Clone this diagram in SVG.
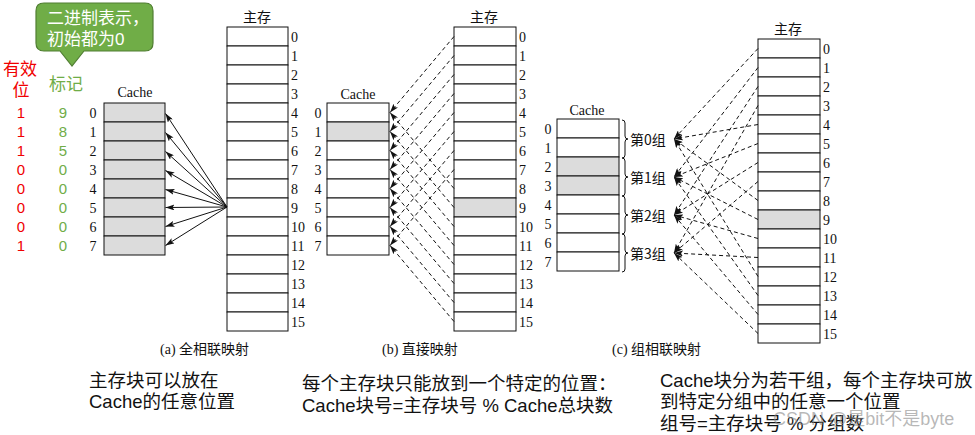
<svg xmlns="http://www.w3.org/2000/svg" width="975" height="435" viewBox="0 0 975 435">
<defs>
<style>
.blk{fill:#fff;stroke:#111;stroke-width:1}
.gry{fill:#dcdcdc;stroke:#111;stroke-width:1}
.num{font-family:'Liberation Serif',serif;font-size:14px;fill:#111}
.ttl{font-family:'Liberation Serif','Noto Sans CJK SC',serif;font-size:14px;fill:#111;text-anchor:middle}
.cap{font-family:'Liberation Serif','Noto Sans CJK SC',serif;font-size:14px;fill:#111}
.grp{font-family:'Noto Sans CJK SC',sans-serif;font-size:14px;fill:#111}
.note{font-family:'Liberation Sans','Noto Sans CJK SC',sans-serif;font-size:18.5px;fill:#111}
.callt{font-family:'Liberation Sans','Noto Sans CJK SC',sans-serif;font-size:17px;fill:#fff}
.redh{font-family:'Liberation Sans','Noto Sans CJK SC',sans-serif;font-size:17px;fill:#f00000;text-anchor:middle}
.grnh{font-family:'Liberation Sans','Noto Sans CJK SC',sans-serif;font-size:17px;fill:#70ad47;text-anchor:middle}
.red{font-family:'Liberation Sans',sans-serif;font-size:15px;fill:#f00000;text-anchor:middle}
.grn{font-family:'Liberation Sans',sans-serif;font-size:15px;fill:#70ad47;text-anchor:middle}
.solid{stroke:#111;stroke-width:1;fill:none}
.dash{stroke:#111;stroke-width:1;fill:none;stroke-dasharray:4 3}
.brace{stroke:#111;stroke-width:1;fill:none}
</style>
<marker id="ah" markerWidth="9" markerHeight="6" refX="9" refY="3" orient="auto" markerUnits="userSpaceOnUse">
<path d="M0,0 L9,3 L0,6 L2,3 z" fill="#111"/>
</marker>
</defs>
<rect x="0" y="0" width="975" height="435" fill="#fff"/>

<g id="callout">
<path d="M44,3 H145 Q153,3 153,11 V43 Q153,51 145,51 H84 L72,66 L60,51 H44 Q36,51 36,43 V11 Q36,3 44,3 Z" fill="#70ad47" stroke="#507e32" stroke-width="1.2"/>
<text class="callt" x="47" y="24">二进制表示，</text>
<text class="callt" x="47" y="45">初始都为0</text>
</g>

<g id="valid-bits">
<text class="redh" x="20" y="75">有效</text>
<text class="redh" x="21" y="96">位</text>
<text class="red" x="21" y="118">1</text>
<text class="red" x="21" y="137">1</text>
<text class="red" x="21" y="156">1</text>
<text class="red" x="21" y="175">0</text>
<text class="red" x="21" y="194">0</text>
<text class="red" x="21" y="213">0</text>
<text class="red" x="21" y="232">0</text>
<text class="red" x="21" y="251">1</text>
</g>
<g id="tags">
<text class="grnh" x="66" y="90">标记</text>
<text class="grn" x="63" y="118">9</text>
<text class="grn" x="63" y="137">8</text>
<text class="grn" x="63" y="156">5</text>
<text class="grn" x="63" y="175">0</text>
<text class="grn" x="63" y="194">0</text>
<text class="grn" x="63" y="213">0</text>
<text class="grn" x="63" y="232">0</text>
<text class="grn" x="63" y="251">0</text>
</g>

<g id="cache-a">
<text class="ttl" x="135" y="97">Cache</text>
<rect class="gry" x="104" y="103" width="61" height="19"/>
<rect class="gry" x="104" y="122" width="61" height="19"/>
<rect class="gry" x="104" y="141" width="61" height="19"/>
<rect class="gry" x="104" y="160" width="61" height="19"/>
<rect class="gry" x="104" y="179" width="61" height="19"/>
<rect class="gry" x="104" y="198" width="61" height="19"/>
<rect class="gry" x="104" y="217" width="61" height="19"/>
<rect class="gry" x="104" y="236" width="61" height="19"/>
<g class="num" text-anchor="middle">
<text x="93" y="118">0</text><text x="93" y="137">1</text><text x="93" y="156">2</text><text x="93" y="175">3</text>
<text x="93" y="194">4</text><text x="93" y="213">5</text><text x="93" y="232">6</text><text x="93" y="251">7</text>
</g>
</g>

<g id="mem-a">
<text class="ttl" x="257" y="22">主存</text>
<rect class="blk" x="227" y="27" width="61" height="19"/>
<rect class="blk" x="227" y="46" width="61" height="19"/>
<rect class="blk" x="227" y="65" width="61" height="19"/>
<rect class="blk" x="227" y="84" width="61" height="19"/>
<rect class="blk" x="227" y="103" width="61" height="19"/>
<rect class="blk" x="227" y="122" width="61" height="19"/>
<rect class="blk" x="227" y="141" width="61" height="19"/>
<rect class="blk" x="227" y="160" width="61" height="19"/>
<rect class="blk" x="227" y="179" width="61" height="19"/>
<rect class="blk" x="227" y="198" width="61" height="19"/>
<rect class="blk" x="227" y="217" width="61" height="19"/>
<rect class="blk" x="227" y="236" width="61" height="19"/>
<rect class="blk" x="227" y="255" width="61" height="19"/>
<rect class="blk" x="227" y="274" width="61" height="19"/>
<rect class="blk" x="227" y="293" width="61" height="19"/>
<rect class="blk" x="227" y="312" width="61" height="19"/>
<g class="num">
<text x="291" y="42">0</text><text x="291" y="61">1</text><text x="291" y="80">2</text><text x="291" y="99">3</text>
<text x="291" y="118">4</text><text x="291" y="137">5</text><text x="291" y="156">6</text><text x="291" y="175">7</text>
<text x="291" y="194">8</text><text x="291" y="213">9</text><text x="291" y="232">10</text><text x="291" y="251">11</text>
<text x="291" y="270">12</text><text x="291" y="289">13</text><text x="291" y="308">14</text><text x="291" y="327">15</text>
</g>
</g>

<g id="cache-b">
<text class="ttl" x="358" y="99">Cache</text>
<rect class="blk" x="327" y="103" width="62" height="19"/>
<rect class="gry" x="327" y="122" width="62" height="19"/>
<rect class="blk" x="327" y="141" width="62" height="19"/>
<rect class="blk" x="327" y="160" width="62" height="19"/>
<rect class="blk" x="327" y="179" width="62" height="19"/>
<rect class="blk" x="327" y="198" width="62" height="19"/>
<rect class="blk" x="327" y="217" width="62" height="19"/>
<rect class="blk" x="327" y="236" width="62" height="19"/>
<g class="num" text-anchor="middle">
<text x="318" y="118">0</text><text x="318" y="137">1</text><text x="318" y="156">2</text><text x="318" y="175">3</text>
<text x="318" y="194">4</text><text x="318" y="213">5</text><text x="318" y="232">6</text><text x="318" y="251">7</text>
</g>
</g>

<g id="mem-b">
<text class="ttl" x="484" y="22">主存</text>
<rect class="blk" x="454" y="27" width="62" height="19"/>
<rect class="blk" x="454" y="46" width="62" height="19"/>
<rect class="blk" x="454" y="65" width="62" height="19"/>
<rect class="blk" x="454" y="84" width="62" height="19"/>
<rect class="blk" x="454" y="103" width="62" height="19"/>
<rect class="blk" x="454" y="122" width="62" height="19"/>
<rect class="blk" x="454" y="141" width="62" height="19"/>
<rect class="blk" x="454" y="160" width="62" height="19"/>
<rect class="blk" x="454" y="179" width="62" height="19"/>
<rect class="gry" x="454" y="198" width="62" height="19"/>
<rect class="blk" x="454" y="217" width="62" height="19"/>
<rect class="blk" x="454" y="236" width="62" height="19"/>
<rect class="blk" x="454" y="255" width="62" height="19"/>
<rect class="blk" x="454" y="274" width="62" height="19"/>
<rect class="blk" x="454" y="293" width="62" height="19"/>
<rect class="blk" x="454" y="312" width="62" height="19"/>
<g class="num">
<text x="519" y="42">0</text><text x="519" y="61">1</text><text x="519" y="80">2</text><text x="519" y="99">3</text>
<text x="519" y="118">4</text><text x="519" y="137">5</text><text x="519" y="156">6</text><text x="519" y="175">7</text>
<text x="519" y="194">8</text><text x="519" y="213">9</text><text x="519" y="232">10</text><text x="519" y="251">11</text>
<text x="519" y="270">12</text><text x="519" y="289">13</text><text x="519" y="308">14</text><text x="519" y="327">15</text>
</g>
</g>

<g id="cache-c">
<text class="ttl" x="587" y="115">Cache</text>
<rect class="blk" x="557" y="119" width="62" height="19"/>
<rect class="blk" x="557" y="138" width="62" height="19"/>
<rect class="gry" x="557" y="157" width="62" height="19"/>
<rect class="gry" x="557" y="176" width="62" height="19"/>
<rect class="blk" x="557" y="195" width="62" height="19"/>
<rect class="blk" x="557" y="214" width="62" height="19"/>
<rect class="blk" x="557" y="233" width="62" height="19"/>
<rect class="blk" x="557" y="252" width="62" height="19"/>
<g class="num" text-anchor="middle">
<text x="548" y="134">0</text><text x="548" y="153">1</text><text x="548" y="172">2</text><text x="548" y="191">3</text>
<text x="548" y="210">4</text><text x="548" y="229">5</text><text x="548" y="248">6</text><text x="548" y="267">7</text>
</g>
</g>

<g id="groups-c">
<path class="brace" d="M622,120 q3,0 3,3 v13 q0,3 3,3 q-3,0 -3,3 v13 q0,3 -3,3"/>
<path class="brace" d="M622,158 q3,0 3,3 v13 q0,3 3,3 q-3,0 -3,3 v13 q0,3 -3,3"/>
<path class="brace" d="M622,196 q3,0 3,3 v13 q0,3 3,3 q-3,0 -3,3 v13 q0,3 -3,3"/>
<path class="brace" d="M622,234 q3,0 3,3 v13 q0,3 3,3 q-3,0 -3,3 v13 q0,3 -3,3"/>
<text class="grp" x="630" y="145">第0组</text>
<text class="grp" x="630" y="183">第1组</text>
<text class="grp" x="630" y="221">第2组</text>
<text class="grp" x="630" y="259">第3组</text>
</g>

<g id="mem-c">
<text class="ttl" x="788" y="34">主存</text>
<rect class="blk" x="758" y="39" width="62" height="19"/>
<rect class="blk" x="758" y="58" width="62" height="19"/>
<rect class="blk" x="758" y="77" width="62" height="19"/>
<rect class="blk" x="758" y="96" width="62" height="19"/>
<rect class="blk" x="758" y="115" width="62" height="19"/>
<rect class="blk" x="758" y="134" width="62" height="19"/>
<rect class="blk" x="758" y="153" width="62" height="19"/>
<rect class="blk" x="758" y="172" width="62" height="19"/>
<rect class="blk" x="758" y="191" width="62" height="19"/>
<rect class="gry" x="758" y="210" width="62" height="19"/>
<rect class="blk" x="758" y="229" width="62" height="19"/>
<rect class="blk" x="758" y="248" width="62" height="19"/>
<rect class="blk" x="758" y="267" width="62" height="19"/>
<rect class="blk" x="758" y="286" width="62" height="19"/>
<rect class="blk" x="758" y="305" width="62" height="19"/>
<rect class="blk" x="758" y="324" width="62" height="19"/>
<g class="num">
<text x="823" y="54">0</text><text x="823" y="73">1</text><text x="823" y="92">2</text><text x="823" y="111">3</text>
<text x="823" y="130">4</text><text x="823" y="149">5</text><text x="823" y="168">6</text><text x="823" y="187">7</text>
<text x="823" y="206">8</text><text x="823" y="225">9</text><text x="823" y="244">10</text><text x="823" y="263">11</text>
<text x="823" y="282">12</text><text x="823" y="301">13</text><text x="823" y="320">14</text><text x="823" y="339">15</text>
</g>
</g>

<g id="connectors">
<g class="solid" marker-end="url(#ah)">
<line x1="227" y1="207" x2="165.5" y2="113.5"/>
<line x1="227" y1="207" x2="165.5" y2="132.5"/>
<line x1="227" y1="207" x2="165.5" y2="151.5"/>
<line x1="227" y1="207" x2="165.5" y2="170.5"/>
<line x1="227" y1="207" x2="165.5" y2="189.5"/>
<line x1="227" y1="207" x2="165.5" y2="207.5"/>
<line x1="227" y1="207" x2="165.5" y2="226.5"/>
<line x1="227" y1="207" x2="165.5" y2="245.5"/>
</g>
<g class="dash" marker-end="url(#ah)">
<line x1="454" y1="36.5" x2="390" y2="112.5"/>
<line x1="454" y1="55.5" x2="390" y2="131.5"/>
<line x1="454" y1="74.5" x2="390" y2="150.5"/>
<line x1="454" y1="93.5" x2="390" y2="169.5"/>
<line x1="454" y1="112.5" x2="390" y2="188.5"/>
<line x1="454" y1="131.5" x2="390" y2="207.5"/>
<line x1="454" y1="150.5" x2="390" y2="226.5"/>
<line x1="454" y1="169.5" x2="390" y2="245.5"/>
<line x1="454" y1="188.5" x2="390" y2="112.5"/>
<line x1="454" y1="207.5" x2="390" y2="131.5"/>
<line x1="454" y1="226.5" x2="390" y2="150.5"/>
<line x1="454" y1="245.5" x2="390" y2="169.5"/>
<line x1="454" y1="264.5" x2="390" y2="188.5"/>
<line x1="454" y1="283.5" x2="390" y2="207.5"/>
<line x1="454" y1="302.5" x2="390" y2="226.5"/>
<line x1="454" y1="321.5" x2="390" y2="245.5"/>
</g>
<g class="dash" marker-end="url(#ah)">
<line x1="758" y1="48.5" x2="674" y2="139"/>
<line x1="758" y1="67.5" x2="674" y2="177"/>
<line x1="758" y1="86.5" x2="674" y2="215"/>
<line x1="758" y1="105.5" x2="674" y2="253"/>
<line x1="758" y1="124.5" x2="674" y2="139"/>
<line x1="758" y1="143.5" x2="674" y2="177"/>
<line x1="758" y1="162.5" x2="674" y2="215"/>
<line x1="758" y1="181.5" x2="674" y2="253"/>
<line x1="758" y1="200.5" x2="674" y2="139"/>
<line x1="758" y1="219.5" x2="674" y2="177"/>
<line x1="758" y1="238.5" x2="674" y2="215"/>
<line x1="758" y1="257.5" x2="674" y2="253"/>
<line x1="758" y1="276.5" x2="674" y2="139"/>
<line x1="758" y1="295.5" x2="674" y2="177"/>
<line x1="758" y1="314.5" x2="674" y2="215"/>
<line x1="758" y1="333.5" x2="674" y2="253"/>
</g>
</g>

<g id="captions">
<text class="cap" x="160" y="354">(a) 全相联映射</text>
<text class="cap" x="382" y="354">(b) 直接映射</text>
<text class="cap" x="612" y="354">(c) 组相联映射</text>
</g>

<g id="notes">
<text class="note" x="89" y="387">主存块可以放在</text>
<text class="note" x="89" y="408">Cache的任意位置</text>
<text class="note" x="302" y="390">每个主存块只能放到一个特定的位置：</text>
<text class="note" x="302" y="412">Cache块号=主存块号 % Cache总块数</text>
<text class="note" x="660" y="387">Cache块分为若干组，每个主存块可放</text>
<text class="note" x="660" y="408">到特定分组中的任意一个位置</text>
<text class="note" x="660" y="430">组号=主存块号 % 分组数</text>
</g>

<g id="watermark">
<text x="773" y="425" font-family="Liberation Sans,Noto Sans CJK SC,sans-serif" font-size="18" fill="#888" fill-opacity="0.6">CSDN @是bit不是byte</text>
</g>
</svg>
